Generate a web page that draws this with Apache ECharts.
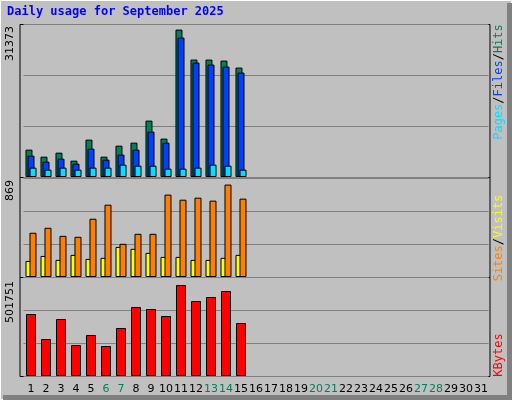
<!DOCTYPE html><html><head><meta charset="utf-8">
<script src="https://cdn.jsdelivr.net/npm/echarts@6/dist/echarts.min.js"></script>
<style>html,body{margin:0;padding:0;background:#c0c0c0}#c{width:512px;height:400px}</style></head><body><div id="c"></div>
<script>
const days = Array.from({length:31},(_,i)=>String(i+1));
const weekends = ['6','7','13','14','20','21','27','28'];
const hits  = [5820,4330,5180,3480,7950,4330,6670,7310,12000,8165,31373,24990,24990,24780,23290];
const files = [4540,3270,3900,2840,6030,3690,4760,5820,9660,7310,29680,24350,23930,23500,22220];
const pages = [1990,1560,1990,1560,1990,1990,2630,2410,2410,1775,1775,1990,2630,2410,1560];
const visits= [151,198,161,208,170,180,283,265,227,189,189,161,161,180,208];
const sites = [416,463,387,378,548,680,312,406,406,775,727,746,718,869,737];
const kbytes= [341900,204000,314300,170900,226100,165400,264700,380500,369400,330800,501751,413600,435600,468700,292200];
const maxLabels = ['31373','869','501751'];

const ch = echarts.init(document.getElementById('c'));
const grids = [{top:24,height:153},{top:178,height:99},{top:277,height:99}];
const maxes = [32565,931,545900];
const xAxes = grids.map((g,i)=>({gridIndex:i,type:'category',data:days,boundaryGap:true,
  axisLine:{show:false},axisTick:{show:false},
  axisLabel:{show:i===2,interval:0,hideOverlap:false,fontFamily:'DejaVu Sans',fontSize:11,margin:8,
    color:(v)=>weekends.includes(v)?'#00805c':'#000'}}));
const yAxes = grids.map((g,i)=>({gridIndex:i,type:'value',min:0,max:maxes[i],interval:maxes[i]/3,
  axisLabel:{show:false},axisLine:{show:false},axisTick:{show:false},
  splitLine:{lineStyle:{color:'#808080',width:1}}}));
const bs = (name,data,color,gi,w,gap,z)=>({name,type:'bar',data,xAxisIndex:gi,yAxisIndex:gi,barWidth:w,barGap:gap,z,
  itemStyle:{color,borderColor:'#000',borderWidth:1},animation:false});
const frame = (y,h)=>({type:'rect',shape:{x:20,y:y,width:470,height:h},style:{fill:null,stroke:'#000',lineWidth:1},z:-1,silent:true});
ch.setOption({
  backgroundColor:'#c0c0c0',
  grid:grids.map(g=>({left:23.5,width:465,top:g.top,height:g.height})),
  xAxis:xAxes,yAxis:yAxes,
  series:[
    bs('Hits',hits,'#00805c',0,7,'-71%',2),
    bs('Files',files,'#0040ff',0,7,'-71%',3),
    bs('Pages',pages,'#00e0ff',0,7,'-71%',4),
    bs('Visits',visits,'#ffff00',1,7,'-43%',2),
    bs('Sites',sites,'#ff8000',1,7,'-43%',3),
    bs('KBytes',kbytes,'#ff0000',2,10,'0%',2)
  ],
  graphic:[
    {type:'rect',shape:{x:0.5,y:0.5,width:511,height:399},style:{fill:null,stroke:'#ffffff',lineWidth:1},silent:true},
    {type:'rect',shape:{x:3,y:395,width:509,height:5},style:{fill:'#808080'},silent:true},
    {type:'rect',shape:{x:507,y:3,width:5,height:397},style:{fill:'#808080'},silent:true},
    frame(24.5,153),frame(177.5,100),frame(277.5,99),
    {type:'text',x:7,y:6,style:{text:'Daily usage for September 2025',fill:'#0000ff',fontFamily:'DejaVu Sans Mono',fontSize:12,fontWeight:'bold'}},
    {type:'text',x:10,y:26,rotation:Math.PI/2,style:{text:maxLabels[0],fill:'#000',fontFamily:'DejaVu Sans',fontSize:11,align:'right',verticalAlign:'middle'}},
    {type:'text',x:10,y:180,rotation:Math.PI/2,style:{text:maxLabels[1],fill:'#000',fontFamily:'DejaVu Sans',fontSize:11,align:'right',verticalAlign:'middle'}},
    {type:'text',x:10,y:281,rotation:Math.PI/2,style:{text:maxLabels[2],fill:'#000',fontFamily:'DejaVu Sans',fontSize:11,align:'right',verticalAlign:'middle'}},
    {type:'text',x:499,y:82,rotation:Math.PI/2,style:{text:'{p|Pages}{s|/}{f|Files}{s|/}{h|Hits}',rich:{p:{fill:'#00e0ff'},f:{fill:'#0040ff'},h:{fill:'#00805c'},s:{fill:'#000'}},fontFamily:'DejaVu Sans Mono',fontSize:12,align:'center',verticalAlign:'middle'}},
    {type:'text',x:499,y:238,rotation:Math.PI/2,style:{text:'{a|Sites}{s|/}{b|Visits}',rich:{a:{fill:'#ff8000'},b:{fill:'#ffff00'},s:{fill:'#000'}},fontFamily:'DejaVu Sans Mono',fontSize:12,align:'center',verticalAlign:'middle'}},
    {type:'text',x:499,y:355,rotation:Math.PI/2,style:{text:'KBytes',fill:'#ff0000',fontFamily:'DejaVu Sans Mono',fontSize:12,align:'center',verticalAlign:'middle'}}
  ]
});
</script></body></html>
